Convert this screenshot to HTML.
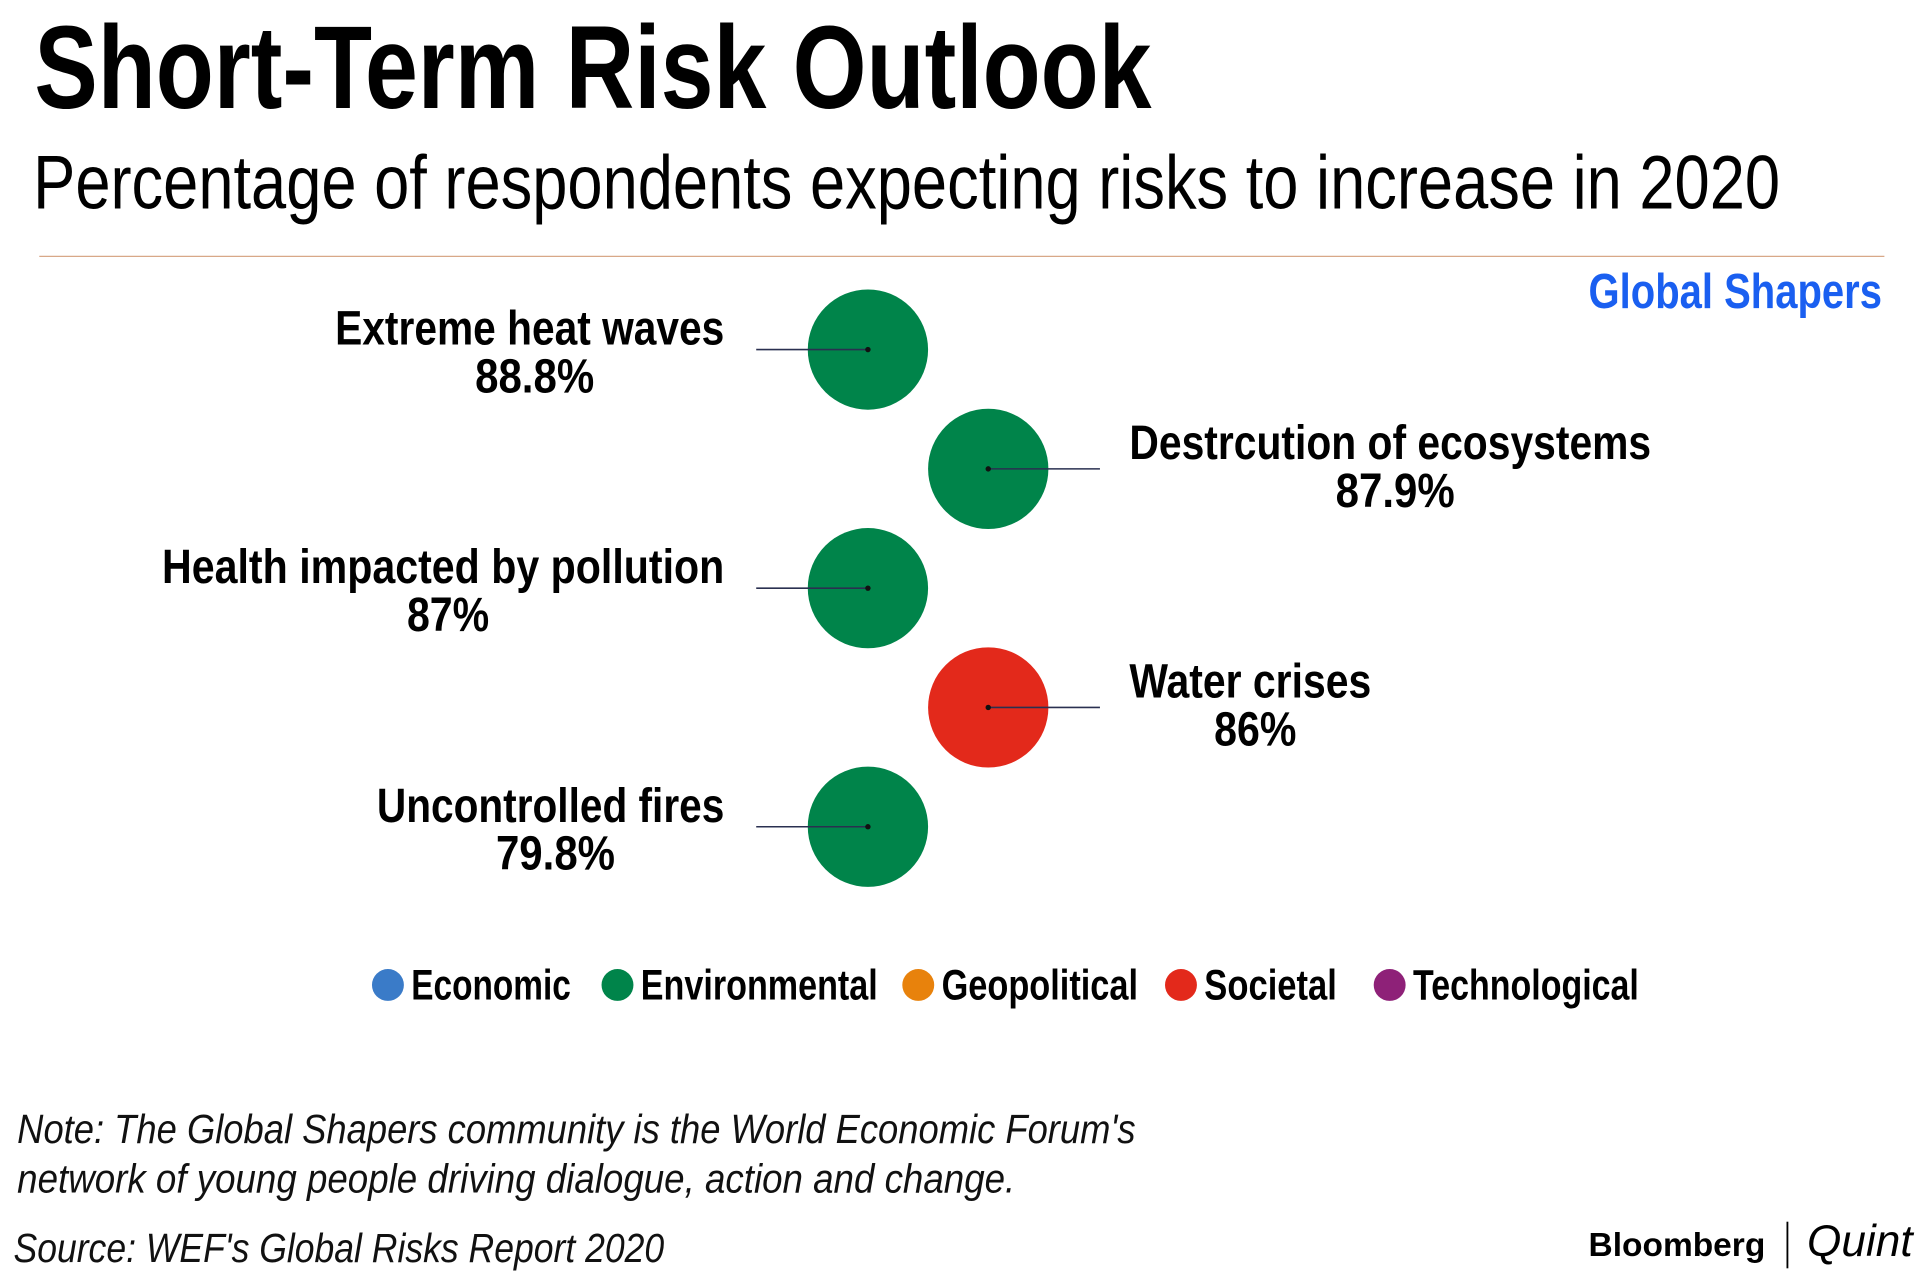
<!DOCTYPE html>
<html><head><meta charset="utf-8"><style>
html,body{margin:0;padding:0;background:#fff;width:1920px;height:1272px;overflow:hidden}
svg{display:block}
text{font-family:"Liberation Sans Narrow","Liberation Sans",sans-serif}
</style></head><body>
<svg id="chart" width="1920" height="1272" viewBox="0 0 1564 1037" preserveAspectRatio="none" xmlns="http://www.w3.org/2000/svg">
<text x="28" y="88" font-size="96" font-weight="bold" textLength="910" lengthAdjust="spacingAndGlyphs" fill="#000">Short-Term Risk Outlook</text>
<text x="27" y="170" font-size="62" textLength="1423" lengthAdjust="spacingAndGlyphs" fill="#000">Percentage of respondents expecting risks to increase in 2020</text>
<line x1="32" y1="209" x2="1535" y2="209" stroke="#d8a888" stroke-width="1"/>
<text x="1533" y="251" font-size="40" font-weight="bold" text-anchor="end" textLength="239" lengthAdjust="spacingAndGlyphs" fill="#1a5ff0">Global Shapers</text>
<g id="marks"></g>
<g id="legend"></g>
<text x="14" y="932" font-size="33" font-style="italic" textLength="911" lengthAdjust="spacingAndGlyphs" fill="#111">Note: The Global Shapers community is the World Economic Forum's</text>
<text x="14" y="972" font-size="33" font-style="italic" textLength="813" lengthAdjust="spacingAndGlyphs" fill="#111">network of young people driving dialogue, action and change.</text>
<text x="11" y="1029" font-size="33" font-style="italic" textLength="530" lengthAdjust="spacingAndGlyphs" fill="#111">Source: WEF's Global Risks Report 2020</text>
<text x="1294" y="1024" font-size="27" font-weight="bold" font-family="Liberation Sans, sans-serif" textLength="144" lengthAdjust="spacingAndGlyphs" fill="#000">Bloomberg</text>
<line x1="1456" y1="996" x2="1456" y2="1034" stroke="#000" stroke-width="1.5"/>
<text x="1472" y="1024" font-size="36" font-style="italic" font-family="Liberation Serif, serif" textLength="86" lengthAdjust="spacingAndGlyphs" fill="#000">Quint</text>
</svg>
<script>
const risks = ["Extreme heat waves","Destrcution of ecosystems","Health impacted by pollution","Water crises","Uncontrolled fires"];
const values = [88.8, 87.9, 87, 86, 79.8];
const valueLabels = ["88.8%","87.9%","87%","86%","79.8%"];
const riskCategories = ["Environmental","Environmental","Environmental","Societal","Environmental"];
const legendCategories = ["Economic","Environmental","Geopolitical","Societal","Technological"];
const legendColors = ["#3a7bc8","#00844a","#e8820c","#e3291b","#8e2178"];

const NS = "http://www.w3.org/2000/svg";
const marks = document.getElementById('marks');
const legend = document.getElementById('legend');
function mk(tag, attrs, parent){const e=document.createElementNS(NS,tag);for(const k in attrs)e.setAttribute(k,attrs[k]);parent.appendChild(e);return e;}
function yPos(i){return 285 + i*97.25;}
function xPos(i){return i%2===0 ? 707 : 805;}
function colorOf(cat){return legendColors[legendCategories.indexOf(cat)];}
const R = 49;
const nameWidths = [317,425,458,197,283];
const valWidths = [97,97,67,67,97];

risks.forEach((name,i)=>{
  const cx=xPos(i), cy=yPos(i), left = i%2===0;
  const c = mk('circle',{cx:cx,cy:cy,r:R,fill:colorOf(riskCategories[i])},marks);
  
  
  const l = mk('line',{x1:left?616:cx,y1:cy,x2:left?cx:896,y2:cy,stroke:'#2a3050','stroke-width':1.3},marks);
  
  
  const d = mk('circle',{cx:cx,cy:cy,r:2.2,fill:'#111'},marks);
  
  
  const nw = nameWidths[i];
  const center = left ? 590 - nw/2 : 920 + nw/2;
  const dy = left ? -4 : -8;
  const t = mk('text',{x:center,y:cy+dy,'font-size':39,'font-weight':'bold','text-anchor':'middle',textLength:nw,lengthAdjust:'spacingAndGlyphs',fill:'#000'},marks);
  t.textContent = name;
  
  
  const v = mk('text',{x:center+4,y:cy+dy+39,'font-size':39,'font-weight':'bold','text-anchor':'middle',textLength:valWidths[i],lengthAdjust:'spacingAndGlyphs',fill:'#000'},marks);
  v.textContent = valueLabels[i];
  
  
});

const legDotX = [316,503,748,962,1132];
const legTextW = [130,193,160,108,184];
legendCategories.forEach((cat,i)=>{
  const g = mk('g',{},legend);
  
  
  mk('circle',{cx:legDotX[i],cy:803,r:13,fill:legendColors[i]},g);
  const t = mk('text',{x:legDotX[i]+19,y:815,'font-size':35,'font-weight':'bold',textLength:legTextW[i],lengthAdjust:'spacingAndGlyphs',fill:'#000'},g);
  t.textContent = cat;
});
</script>
</body></html>
